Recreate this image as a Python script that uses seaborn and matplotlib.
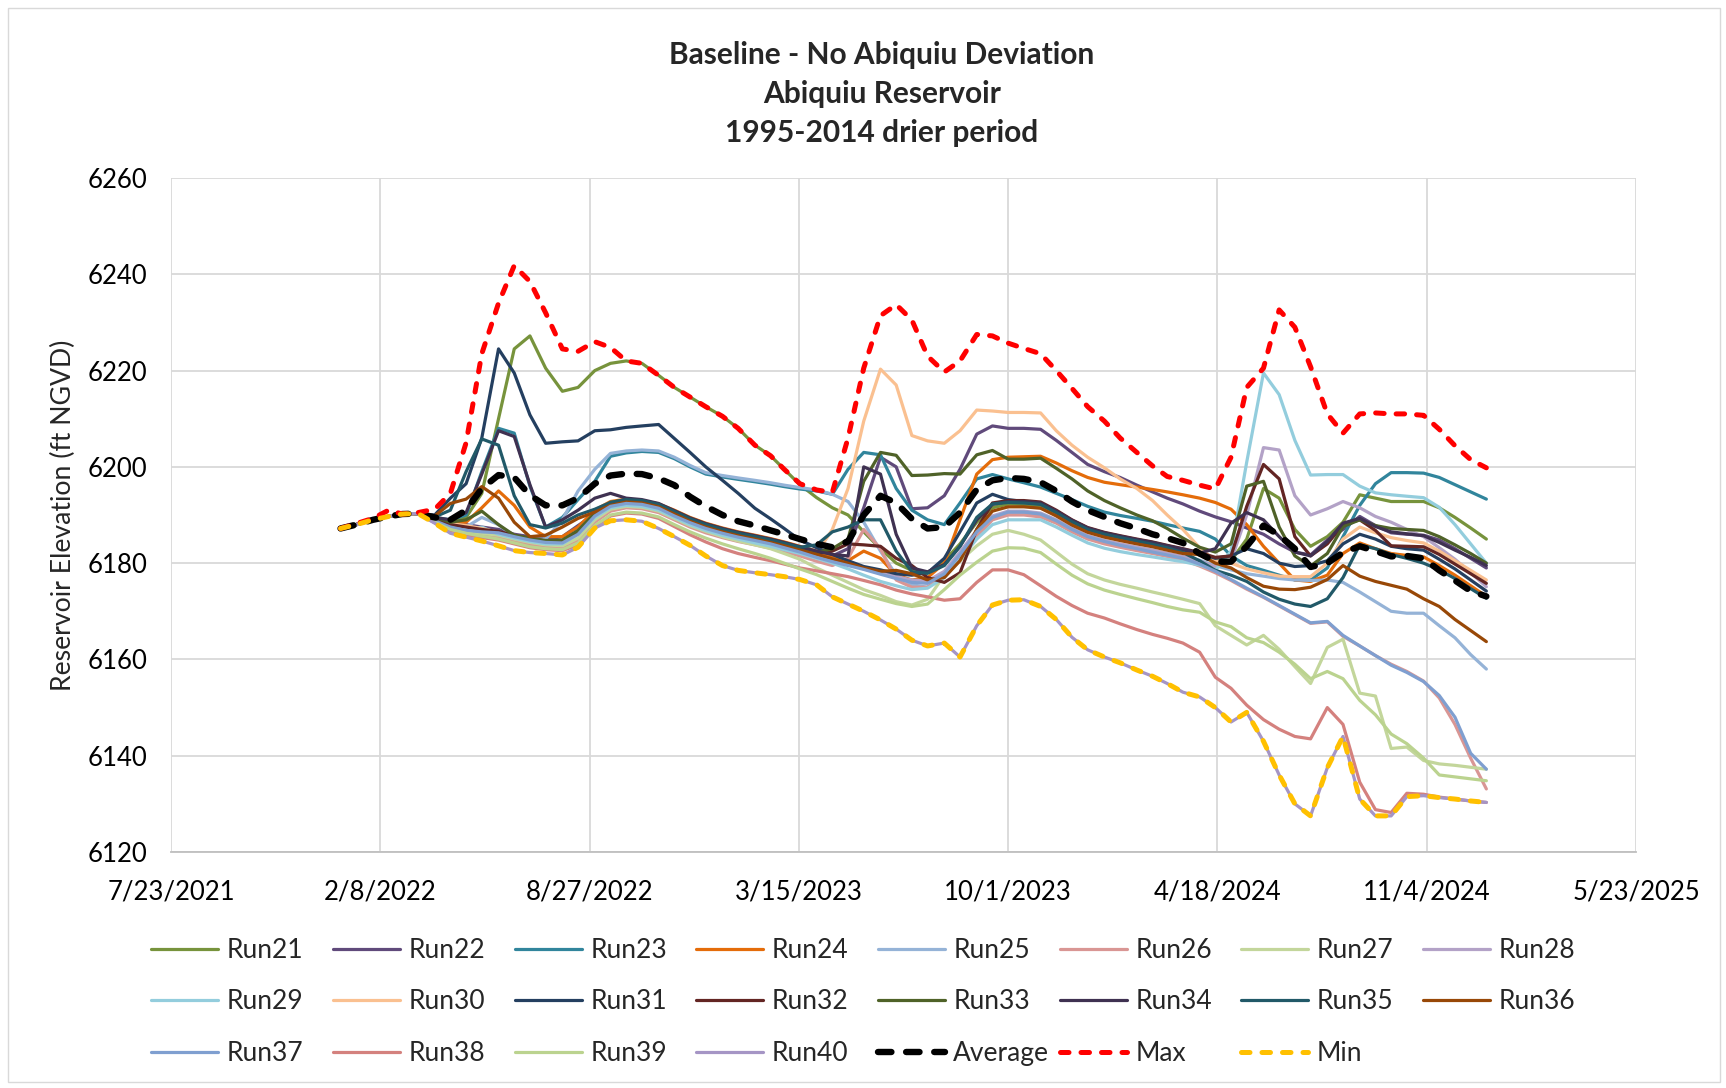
import pandas as pd
import matplotlib
matplotlib.use("Agg")
import matplotlib.pyplot as plt
from matplotlib.patches import Rectangle
import seaborn as sns

# Semi-monthly sample dates (1st and 16th), Jan 2022 - Dec 2024
dates = [pd.Timestamp(y, m, d) for y in (2022, 2023, 2024)
         for m in range(1, 13) for d in (1, 16)] + [pd.Timestamp(2024, 12, 31)]

# Reservoir elevation (ft NGVD) per run
run21 = [6187.2, 6188.0, 6189.0, 6189.7, 6190.2, 6190.3,
         6189.5, 6188.5, 6189.5, 6194.5, 6210.0, 6224.5, 6227.2, 6220.5, 6215.7, 6216.5, 6220.0, 6221.5, 6222.0, 6221.5, 6219.0, 6216.5, 6214.5, 6212.5,
         6210.5, 6208.0, 6204.5, 6202.3, 6199.5, 6196.3, 6193.6, 6191.5, 6190.0, 6186.5, 6183.0, 6180.0, 6178.5, 6178.0, 6180.5, 6184.0, 6188.5, 6191.5, 6192.3, 6192.2, 6191.8, 6190.3, 6188.3, 6186.8,
         6185.8, 6185.0, 6184.4, 6183.8, 6183.2, 6182.5, 6181.7, 6180.8, 6180.5, 6185.0, 6195.5, 6193.5, 6187.0, 6183.5, 6185.5, 6188.5, 6194.2, 6193.5, 6192.8, 6192.8, 6192.8, 6191.5, 6189.5, 6187.3,
         6185.0]
run22 = [6187.2, 6188.0, 6189.0, 6189.7, 6190.2, 6190.3,
         6189.5, 6188.5, 6188.0, 6187.5, 6187.0, 6186.0, 6185.5, 6185.0, 6185.5, 6187.8, 6190.2, 6192.3, 6193.0, 6192.8, 6192.0, 6190.5, 6189.0, 6187.8,
         6187.0, 6186.3, 6185.6, 6184.9, 6184.2, 6183.3, 6182.3, 6181.5, 6183.0, 6191.5, 6202.0, 6200.0, 6191.3, 6191.5, 6194.0, 6199.5, 6206.8, 6208.5, 6208.0, 6208.0, 6207.8, 6205.5, 6203.0, 6200.5,
         6199.0, 6197.8, 6196.2, 6194.8, 6193.5, 6192.3, 6190.8, 6189.6, 6188.6, 6187.3, 6186.0, 6184.0, 6182.3, 6181.7, 6184.8, 6187.0, 6189.7, 6187.8, 6186.3, 6186.0, 6185.8, 6184.8, 6183.0, 6181.0,
         6179.0]
run23 = [6187.2, 6188.0, 6189.0, 6189.7, 6190.2, 6190.3,
         6189.5, 6189.0, 6190.0, 6199.0, 6208.0, 6207.0, 6196.0, 6187.5, 6189.5, 6193.2, 6197.0, 6202.2, 6202.9, 6203.2, 6203.0, 6201.7, 6200.0, 6198.5,
         6197.9, 6197.4, 6196.9, 6196.4, 6195.9, 6195.4, 6195.0, 6194.3, 6199.5, 6203.0, 6202.5, 6195.5, 6191.0, 6189.0, 6188.0, 6192.5, 6197.5, 6198.4, 6197.5, 6196.7, 6195.8, 6194.5, 6193.2, 6191.8,
         6190.6, 6189.9, 6189.3, 6188.7, 6188.0, 6187.3, 6186.6, 6185.0, 6181.5, 6179.5, 6178.5, 6177.5, 6176.5, 6176.5, 6179.0, 6185.5, 6192.0, 6196.5, 6198.8, 6198.8, 6198.7, 6197.8, 6196.3, 6194.8,
         6193.3]
run24 = [6187.2, 6188.0, 6189.0, 6189.7, 6190.2, 6190.3,
         6189.5, 6188.5, 6188.5, 6191.5, 6195.0, 6192.0, 6187.5, 6185.5, 6185.5, 6187.5, 6191.0, 6192.8, 6193.3, 6193.0, 6192.3, 6191.0, 6189.5, 6188.3,
         6187.3, 6186.5, 6185.8, 6185.1, 6184.4, 6183.5, 6182.5, 6181.5, 6180.5, 6182.5, 6181.0, 6177.5, 6176.5, 6177.0, 6180.0, 6189.0, 6198.5, 6201.5, 6202.0, 6202.1, 6202.2, 6200.8, 6199.2, 6197.8,
         6196.8, 6196.3, 6195.8, 6195.3, 6194.8, 6194.2, 6193.5, 6192.6, 6191.2, 6188.0, 6183.5, 6180.0, 6176.5, 6176.2, 6177.5, 6182.0, 6184.2, 6183.0, 6182.0, 6181.6, 6181.3, 6179.5, 6177.5, 6175.3,
         6173.1]
run25 = [6187.2, 6188.0, 6189.0, 6189.7, 6190.2, 6190.3,
         6189.0, 6188.0, 6187.5, 6189.5, 6188.0, 6185.5, 6185.0, 6185.0, 6189.0, 6195.0, 6199.5, 6202.8, 6203.3, 6203.5, 6203.3, 6202.0, 6200.3, 6198.8,
         6198.2, 6197.7, 6197.2, 6196.7, 6196.2, 6195.7, 6195.2, 6194.3, 6192.8, 6188.5, 6182.5, 6177.5, 6175.5, 6175.0, 6177.5, 6181.5, 6186.0, 6189.2, 6190.3, 6190.3, 6190.0, 6188.6, 6186.8, 6185.4,
         6184.5, 6183.8, 6183.2, 6182.6, 6182.0, 6181.3, 6180.6, 6179.5, 6178.6, 6177.8, 6177.3, 6176.8, 6176.5, 6176.4, 6176.5, 6176.0, 6174.0, 6172.0, 6170.0, 6169.6, 6169.6, 6167.0, 6164.5, 6161.0,
         6158.0]
run26 = [6187.2, 6188.0, 6189.0, 6189.7, 6190.2, 6190.3,
         6188.5, 6187.0, 6186.3, 6185.8, 6185.3, 6184.5, 6183.8, 6183.5, 6183.3, 6184.8, 6188.5, 6190.8, 6191.5, 6191.3, 6190.5, 6189.0, 6187.5, 6186.3,
         6185.3, 6184.5, 6183.8, 6183.1, 6182.4, 6181.5, 6180.4, 6179.5, 6181.0, 6187.0, 6183.0, 6176.5, 6175.0, 6175.0, 6177.5, 6181.0, 6185.5, 6189.0, 6190.0, 6190.0, 6189.6, 6188.3, 6186.5, 6185.0,
         6184.0, 6183.3, 6182.6, 6182.0, 6181.4, 6180.7, 6179.4, 6178.0, 6176.4, 6174.6, 6172.9, 6171.1, 6169.3, 6167.5, 6167.8, 6164.8, 6162.8, 6160.8, 6159.0, 6157.5, 6155.5, 6152.0, 6146.5, 6139.5,
         6133.1]
run27 = [6187.2, 6188.0, 6189.0, 6189.7, 6190.2, 6190.3,
         6188.7, 6187.3, 6186.6, 6186.2, 6185.8, 6185.0, 6184.3, 6183.8, 6183.6, 6185.2, 6189.0, 6191.2, 6191.8, 6191.6, 6190.8, 6189.3, 6187.8, 6186.6,
         6185.5, 6184.6, 6183.8, 6183.0, 6182.0, 6180.8, 6179.0, 6177.5, 6176.0, 6174.5, 6173.3, 6172.0, 6171.3, 6172.5, 6177.5, 6180.5, 6183.6, 6186.0, 6186.8, 6186.0, 6184.8, 6182.3, 6179.8, 6177.8,
         6176.5, 6175.6, 6174.8, 6174.0, 6173.3, 6172.5, 6171.6, 6167.0, 6165.0, 6163.0, 6165.0, 6162.1, 6158.5, 6155.0, 6162.5, 6164.2, 6153.0, 6152.4, 6141.5, 6141.8, 6139.0, 6138.3, 6138.0, 6137.6,
         6137.2]
run28 = [6187.2, 6188.0, 6189.0, 6189.7, 6190.2, 6190.3,
         6189.0, 6188.0, 6187.2, 6186.8, 6186.5, 6185.8, 6185.0, 6184.5, 6184.5, 6186.5, 6190.0, 6192.2, 6192.8, 6192.6, 6191.8, 6190.3, 6188.8, 6187.6,
         6186.6, 6185.8, 6185.0, 6184.3, 6183.5, 6182.6, 6181.6, 6180.7, 6179.8, 6178.8, 6178.0, 6177.2, 6176.5, 6176.3, 6178.3, 6182.3, 6186.8, 6189.8, 6190.8, 6190.8, 6190.4, 6189.0, 6187.2, 6185.7,
         6184.7, 6184.0, 6183.3, 6182.7, 6182.0, 6181.4, 6180.4, 6179.3, 6180.5, 6190.0, 6204.0, 6203.5, 6194.0, 6190.0, 6191.3, 6192.8, 6191.5, 6189.7, 6188.5, 6187.0, 6185.5, 6183.2, 6180.8, 6178.0,
         6175.1]
run29 = [6187.2, 6188.0, 6189.0, 6189.7, 6190.2, 6190.3,
         6188.9, 6187.8, 6187.0, 6187.5, 6186.0, 6185.2, 6184.5, 6184.0, 6184.0, 6186.0, 6189.5, 6191.5, 6192.0, 6191.8, 6191.0, 6189.5, 6188.0, 6186.8,
         6185.8, 6185.0, 6184.2, 6183.5, 6182.8, 6182.0, 6181.0, 6180.0, 6178.8, 6177.5, 6176.2, 6175.3, 6174.5, 6174.8, 6177.0, 6180.8, 6185.0, 6188.0, 6189.0, 6189.0, 6189.0, 6187.5, 6185.8, 6184.2,
         6183.1, 6182.4, 6181.8, 6181.3, 6180.8, 6180.3, 6179.6, 6178.5, 6182.5, 6201.0, 6219.5, 6215.0, 6205.5, 6198.3, 6198.4, 6198.4, 6196.0, 6194.6, 6194.2, 6193.9, 6193.6, 6191.6, 6188.0, 6184.0,
         6180.0]
run30 = [6187.2, 6188.0, 6189.0, 6189.7, 6190.2, 6190.3,
         6189.2, 6188.2, 6187.8, 6187.2, 6186.4, 6185.6, 6185.0, 6184.6, 6184.7, 6186.7, 6190.3, 6192.5, 6193.1, 6192.9, 6192.1, 6190.6, 6189.1, 6187.9,
         6186.9, 6186.1, 6185.4, 6184.7, 6183.9, 6183.0, 6182.0, 6187.0, 6195.5, 6209.5, 6220.3, 6217.0, 6206.5, 6205.4, 6204.9, 6207.5, 6211.8, 6211.6, 6211.3, 6211.3, 6211.2, 6207.5, 6204.5, 6202.0,
         6199.8, 6197.5, 6195.5, 6193.0, 6190.0, 6187.0, 6183.2, 6180.5, 6180.0, 6178.8, 6178.0, 6177.3, 6177.2, 6177.2, 6180.0, 6185.0, 6187.5, 6186.3, 6185.3, 6184.7, 6184.2, 6182.5, 6180.5, 6178.5,
         6176.5]
run31 = [6187.2, 6188.0, 6189.0, 6189.7, 6190.2, 6190.3,
         6190.0, 6193.5, 6196.5, 6206.0, 6224.5, 6219.5, 6210.8, 6204.9, 6205.2, 6205.4, 6207.5, 6207.7, 6208.2, 6208.5, 6208.8, 6205.9, 6203.0, 6200.0,
         6197.2, 6194.5, 6191.4, 6189.2, 6187.2, 6184.8, 6183.2, 6181.8, 6180.5, 6179.3, 6178.6, 6177.8, 6177.5, 6178.0, 6181.0, 6186.5, 6192.5, 6194.3, 6193.2, 6192.8, 6192.5, 6190.8, 6188.8, 6187.2,
         6186.2, 6185.5, 6184.8, 6184.2, 6183.5, 6182.8, 6182.0, 6181.0, 6181.5, 6183.0, 6182.0, 6180.0, 6179.3, 6179.5, 6180.5, 6184.0, 6186.0, 6185.0, 6183.5, 6183.0, 6182.7, 6180.8, 6178.8, 6176.5,
         6174.2]
run32 = [6187.2, 6188.0, 6189.0, 6189.7, 6190.2, 6190.3,
         6189.2, 6188.0, 6187.5, 6187.0, 6186.6, 6185.8, 6185.1, 6184.6, 6184.6, 6186.6, 6190.2, 6192.4, 6193.0, 6192.8, 6192.0, 6190.5, 6189.0, 6187.8,
         6186.8, 6186.0, 6185.2, 6184.5, 6183.7, 6182.8, 6182.0, 6182.5, 6184.0, 6183.8, 6183.5, 6181.0, 6179.5, 6177.0, 6176.0, 6178.0, 6187.0, 6192.5, 6193.0, 6193.0, 6192.7, 6191.0, 6189.0, 6187.4,
         6186.4, 6185.7, 6185.0, 6184.4, 6183.7, 6183.0, 6182.2, 6181.2, 6181.5, 6191.8, 6200.5, 6197.5, 6185.5, 6181.5, 6184.0, 6188.0, 6189.0, 6186.8, 6183.6, 6183.5, 6183.4, 6181.8, 6179.8, 6177.8,
         6175.8]
run33 = [6187.2, 6188.0, 6189.0, 6189.7, 6190.2, 6190.3,
         6189.5, 6188.5, 6189.0, 6190.8, 6188.0, 6185.8, 6185.2, 6184.7, 6184.8, 6186.8, 6190.4, 6192.6, 6193.2, 6193.0, 6192.2, 6190.7, 6189.2, 6188.0,
         6187.0, 6186.2, 6185.5, 6184.8, 6184.0, 6183.0, 6182.2, 6183.0, 6185.0, 6197.0, 6203.0, 6202.4, 6198.2, 6198.3, 6198.6, 6198.5, 6202.5, 6203.4, 6201.6, 6201.6, 6201.8, 6199.7, 6197.5, 6195.0,
         6193.0, 6191.5, 6190.0, 6188.8, 6187.2, 6185.2, 6183.3, 6182.3, 6184.0, 6196.0, 6197.0, 6187.5, 6181.5, 6179.4, 6182.0, 6187.6, 6189.0, 6187.8, 6187.2, 6187.0, 6186.8, 6185.5, 6183.8, 6182.0,
         6180.0]
run34 = [6187.2, 6188.0, 6189.0, 6189.7, 6190.2, 6190.3,
         6189.5, 6189.0, 6190.5, 6198.5, 6207.5, 6206.3, 6196.3, 6187.5, 6189.0, 6191.0, 6193.5, 6194.5, 6193.5, 6193.2, 6192.4, 6190.9, 6189.4, 6188.2,
         6187.2, 6186.4, 6185.7, 6185.0, 6184.3, 6183.4, 6182.5, 6181.8, 6181.5, 6200.0, 6198.5, 6186.0, 6179.0, 6178.2, 6179.7, 6183.5, 6189.0, 6192.2, 6192.8, 6192.8, 6192.5, 6190.8, 6188.9, 6187.3,
         6186.3, 6185.6, 6184.9, 6184.3, 6183.6, 6182.9, 6182.1, 6183.0, 6188.3, 6190.5, 6189.0, 6185.5, 6182.3, 6181.5, 6184.5, 6188.3, 6189.3, 6187.6, 6186.5, 6186.1, 6185.7, 6184.3, 6182.7, 6181.2,
         6179.5]
run35 = [6187.2, 6188.0, 6189.0, 6189.7, 6190.2, 6190.3,
         6189.6, 6191.0, 6199.0, 6205.8, 6204.5, 6194.0, 6188.0, 6187.3, 6188.3, 6190.0, 6191.2, 6192.6, 6193.2, 6193.0, 6192.2, 6190.7, 6189.2, 6188.0,
         6187.0, 6186.2, 6185.5, 6184.8, 6184.1, 6183.3, 6183.8, 6186.5, 6187.5, 6189.0, 6189.0, 6182.5, 6178.2, 6177.9, 6179.5, 6183.5, 6189.5, 6192.3, 6192.6, 6192.5, 6192.2, 6190.5, 6188.6, 6187.0,
         6186.0, 6185.3, 6184.6, 6183.9, 6183.2, 6182.2, 6180.5, 6178.5, 6177.5, 6176.2, 6174.0, 6172.5, 6171.5, 6171.0, 6172.6, 6177.0, 6183.8, 6183.0, 6181.8, 6181.0, 6180.0, 6178.6, 6176.8, 6174.7,
         6172.7]
run36 = [6187.2, 6188.0, 6189.0, 6189.7, 6190.2, 6190.3,
         6189.8, 6192.4, 6193.3, 6195.9, 6193.5, 6188.5, 6185.5, 6185.8, 6187.5, 6189.3, 6190.6, 6192.0, 6192.7, 6192.5, 6191.7, 6190.2, 6188.7, 6187.5,
         6186.5, 6185.7, 6185.0, 6184.3, 6183.6, 6182.7, 6181.8, 6180.9, 6180.0, 6179.0, 6178.3, 6178.5, 6177.8, 6176.5, 6177.0, 6180.5, 6187.0, 6190.8, 6191.7, 6191.7, 6191.4, 6189.8, 6187.9, 6186.4,
         6185.4, 6184.7, 6184.0, 6183.4, 6182.7, 6182.0, 6181.8, 6180.0, 6179.0, 6177.0, 6175.2, 6174.6, 6174.5, 6175.0, 6176.6, 6179.5, 6177.3, 6176.2, 6175.4, 6174.6, 6172.6, 6171.0, 6168.3, 6166.0,
         6163.7]
run37 = [6187.2, 6188.0, 6189.0, 6189.7, 6190.2, 6190.3,
         6188.8, 6187.5, 6186.8, 6186.5, 6186.3, 6185.5, 6184.8, 6184.3, 6184.2, 6186.0, 6189.8, 6191.8, 6192.4, 6192.2, 6191.4, 6189.8, 6188.4, 6187.2,
         6186.2, 6185.4, 6184.7, 6184.0, 6183.2, 6182.3, 6181.2, 6180.3, 6179.5, 6178.7, 6177.7, 6176.8, 6176.0, 6175.8, 6177.8, 6181.8, 6186.5, 6189.5, 6190.6, 6190.6, 6190.2, 6188.8, 6187.0, 6185.5,
         6184.5, 6183.7, 6183.0, 6182.3, 6181.7, 6181.0, 6179.8, 6178.3, 6176.6, 6174.8, 6173.0, 6171.2, 6169.4, 6167.6, 6167.9, 6165.0, 6162.8, 6160.8, 6158.8, 6157.3, 6155.4, 6152.5, 6148.0, 6140.5,
         6137.2]
run38 = [6187.2, 6188.0, 6189.0, 6189.7, 6190.2, 6190.3,
         6188.4, 6186.8, 6185.9, 6185.3, 6184.8, 6184.0, 6183.2, 6182.8, 6182.6, 6183.8, 6187.5, 6189.8, 6190.4, 6190.2, 6189.3, 6187.6, 6185.9, 6184.4,
         6183.0, 6182.0, 6181.2, 6180.5, 6179.8, 6179.0, 6178.4, 6177.8, 6177.2, 6176.4, 6175.5, 6174.4, 6173.6, 6173.0, 6172.3, 6172.6, 6176.0, 6178.6, 6178.6, 6177.6, 6175.3, 6173.1, 6171.2, 6169.6,
         6168.6, 6167.4, 6166.2, 6165.2, 6164.4, 6163.4, 6161.5, 6156.3, 6154.0, 6150.5, 6147.5, 6145.5, 6144.0, 6143.5, 6150.0, 6146.5, 6134.5, 6128.8, 6128.2, 6132.2, 6132.0, 6131.4, 6131.0, 6130.6,
         6130.3]
run39 = [6187.2, 6188.0, 6189.0, 6189.7, 6190.2, 6190.3,
         6188.5, 6187.0, 6186.2, 6185.6, 6185.0, 6184.2, 6183.4, 6183.0, 6182.8, 6184.2, 6187.8, 6190.0, 6190.6, 6190.4, 6189.6, 6188.0, 6186.5, 6185.2,
         6184.0, 6183.0, 6182.0, 6181.0, 6180.0, 6178.8, 6177.6, 6176.2, 6174.8, 6173.5, 6172.5, 6171.6, 6171.0, 6171.5, 6174.5, 6177.5, 6180.2, 6182.5, 6183.2, 6183.1, 6182.2, 6179.8, 6177.5, 6175.7,
         6174.4, 6173.5, 6172.6, 6171.8, 6171.0, 6170.3, 6169.8, 6167.8, 6166.8, 6164.5, 6163.5, 6161.5, 6159.0, 6156.0, 6157.5, 6156.0, 6151.5, 6148.5, 6144.5, 6142.5, 6139.5, 6136.0, 6135.6, 6135.2,
         6134.8]
run40 = [6187.2, 6188.0, 6189.0, 6189.7, 6190.2, 6190.3,
         6188.3, 6186.2, 6185.4, 6184.6, 6183.6, 6182.6, 6182.2, 6182.0, 6181.7, 6183.3, 6187.3, 6188.8, 6189.0, 6188.7, 6187.2, 6185.5, 6183.7, 6181.5,
         6179.5, 6178.5, 6178.0, 6177.6, 6177.2, 6176.6, 6175.5, 6173.0, 6171.5, 6170.0, 6168.2, 6166.3, 6164.0, 6162.8, 6163.4, 6160.5, 6167.0, 6171.3, 6172.3, 6172.4, 6171.0, 6168.3, 6164.6, 6162.0,
         6160.5, 6159.3, 6157.8, 6156.5, 6155.0, 6153.2, 6152.2, 6150.0, 6147.0, 6149.0, 6143.0, 6136.0, 6130.0, 6127.5, 6137.5, 6144.0, 6131.0, 6127.5, 6127.5, 6131.5, 6131.7, 6131.3, 6131.0, 6130.6,
         6130.3]

# Summary statistics across the full run ensemble
average = [6187.2, 6188.0, 6189.0, 6189.7, 6190.2, 6190.3,
           6189.5, 6189.0, 6191.0, 6195.5, 6198.3, 6197.8, 6194.1, 6192.0, 6192.0, 6193.5, 6196.5, 6198.2, 6198.6, 6198.5, 6197.6, 6196.2, 6193.8, 6191.8,
           6190.0, 6188.7, 6187.8, 6186.8, 6186.0, 6185.0, 6184.0, 6183.3, 6184.5, 6190.0, 6194.0, 6192.5, 6189.2, 6187.2, 6187.5, 6190.5, 6195.3, 6197.2, 6197.7, 6197.5, 6196.8, 6195.0, 6192.8, 6191.0,
           6189.6, 6188.3, 6187.2, 6186.0, 6185.2, 6184.2, 6182.0, 6180.3, 6180.3, 6183.5, 6187.8, 6185.8, 6183.0, 6179.2, 6180.0, 6182.2, 6183.5, 6182.5, 6181.4, 6181.5, 6181.0, 6178.5, 6176.4, 6174.2,
           6173.1]
maximum = [6187.2, 6188.2, 6189.3, 6191.0, 6190.2, 6190.5,
           6191.2, 6194.5, 6205.0, 6223.5, 6234.0, 6241.8, 6238.5, 6232.0, 6224.5, 6224.0, 6226.0, 6224.8, 6222.0, 6221.5, 6219.0, 6216.5, 6214.5, 6212.5,
           6210.5, 6208.0, 6204.5, 6202.3, 6199.5, 6196.5, 6195.2, 6194.7, 6206.0, 6220.5, 6231.4, 6233.7, 6230.5, 6223.0, 6219.7, 6222.0, 6227.5, 6227.2, 6225.7, 6224.6, 6223.5, 6220.0, 6216.3, 6212.5,
           6209.5, 6206.0, 6203.0, 6200.2, 6198.0, 6197.2, 6196.2, 6195.4, 6202.0, 6216.5, 6220.5, 6232.6, 6229.0, 6220.8, 6211.0, 6207.0, 6211.0, 6211.2, 6211.0, 6211.0, 6210.7, 6207.8, 6204.4, 6201.5,
           6199.8]
minimum = [6187.2, 6188.0, 6189.0, 6189.7, 6190.2, 6190.3,
           6188.3, 6186.2, 6185.4, 6184.6, 6183.6, 6182.6, 6182.2, 6182.0, 6181.7, 6183.3, 6187.3, 6188.8, 6189.0, 6188.7, 6187.2, 6185.5, 6183.7, 6181.5,
           6179.5, 6178.5, 6178.0, 6177.6, 6177.2, 6176.6, 6175.5, 6173.0, 6171.5, 6170.0, 6168.2, 6166.3, 6164.0, 6162.8, 6163.4, 6160.5, 6167.0, 6171.3, 6172.3, 6172.4, 6171.0, 6168.3, 6164.6, 6162.0,
           6160.5, 6159.3, 6157.8, 6156.5, 6155.0, 6153.2, 6152.2, 6150.0, 6147.0, 6149.0, 6143.0, 6136.0, 6130.0, 6127.5, 6137.5, 6144.0, 6131.0, 6127.5, 6127.5, 6131.5, 6131.7, 6131.3, 6131.0, 6130.6,
           6130.3]

run_names = ["Run21", "Run22", "Run23", "Run24", "Run25", "Run26", "Run27", "Run28", "Run29", "Run30",
             "Run31", "Run32", "Run33", "Run34", "Run35", "Run36", "Run37", "Run38", "Run39", "Run40"]
run_values = [run21, run22, run23, run24, run25, run26, run27, run28, run29, run30,
              run31, run32, run33, run34, run35, run36, run37, run38, run39, run40]
run_colors = ["#77933C", "#604A7B", "#31859C", "#E46C0A", "#95B3D7", "#D99694", "#C3D69B", "#B3A2C7", "#93CDDD", "#FAC090",
              "#243F60", "#632523", "#4F6228", "#3F3151", "#215968", "#984807", "#7F9FD0", "#D4817E", "#BBD38F", "#A595C5"]

x_tick_labels = ["7/23/2021", "2/8/2022", "8/27/2022", "3/15/2023", "10/1/2023", "4/18/2024", "11/4/2024", "5/23/2025"]
y_ticks = [6120, 6140, 6160, 6180, 6200, 6220, 6240, 6260]
title_lines = ["Baseline - No Abiquiu Deviation", "Abiquiu Reservoir", "1995-2014 drier period"]

W, H = 1726, 1088
sns.set_style("white")
plt.rcParams["font.family"] = ["Lato", "DejaVu Sans"]

fig = plt.figure(figsize=(W / 100, H / 100), dpi=100)
ax = fig.add_axes([171 / W, 1 - 852 / H, (1636 - 171) / W, (852 - 178) / H])

for name, vals, col in zip(run_names, run_values, run_colors):
    df = pd.DataFrame({"date": dates, "elev": vals})
    sns.lineplot(data=df, x="date", y="elev", ax=ax, color=col, lw=2.3,
                 label=name, errorbar=None, zorder=2)

stat_styles = [
    ("Average", average, "#000000", 4.6, (2.1, 2.3), 3),
    ("Max", maximum, "#FF0000", 3.6, (1.7, 2.4), 4),
    ("Min", minimum, "#FFC000", 3.6, (1.7, 2.4), 5),
]
for name, vals, col, lw, dash, z in stat_styles:
    df = pd.DataFrame({"date": dates, "elev": vals})
    sns.lineplot(data=df, x="date", y="elev", ax=ax, color=col, lw=lw,
                 linestyle=(0, dash), dash_capstyle="round",
                 label=name, errorbar=None, zorder=z)

# Axes
tick_dates = [pd.Timestamp(2021, 7, 23) + pd.Timedelta(days=200 * k) for k in range(len(x_tick_labels))]
ax.set_xlim(tick_dates[0], tick_dates[-1])
ax.set_xticks(tick_dates)
ax.set_xticklabels(x_tick_labels)
ax.set_ylim(y_ticks[0], y_ticks[-1])
ax.set_yticks(y_ticks)
ax.set_xlabel("")
ax.set_ylabel("")
ax.grid(True, color="#D9D9D9", lw=1.3)
ax.set_axisbelow(True)
for side in ("left", "right", "top"):
    ax.spines[side].set_visible(False)
ax.spines["bottom"].set_color("#BFBFBF")
ax.spines["bottom"].set_linewidth(1.3)
ax.tick_params(axis="both", length=0, labelsize=18.5, colors="black")
ax.tick_params(axis="y", pad=17)
ax.tick_params(axis="x", pad=20)

# Legend laid out row by row in 8 columns
handles, labels = ax.get_legend_handles_labels()
if ax.get_legend() is not None:
    ax.get_legend().remove()
col_left = [151, 333, 515, 696, 878, 1060, 1241, 1423]
for c, xl in enumerate(col_left):
    idx = [i for i in (c, c + 8, c + 16) if i < len(handles)]
    fig.legend([handles[i] for i in idx], [labels[i] for i in idx],
               loc="upper left", bbox_to_anchor=(xl / W, 1 - 938 / H),
               frameon=False, borderpad=0, borderaxespad=0,
               handlelength=2.55, handletextpad=0.3, labelspacing=1.0,
               fontsize=19)

# Titles
for k, line in enumerate(title_lines):
    fig.text(882 / W, 1 - (55 + 39 * k) / H, line, ha="center", va="center",
             fontsize=21.5, fontweight="bold")

fig.text(63 / W, 1 - 515 / H, "Reservoir Elevation (ft NGVD)", rotation=90,
         ha="center", va="center", fontsize=19.2)

fig.patches.append(Rectangle((8 / W, 6 / H), (W - 14) / W, (H - 14) / H,
                             transform=fig.transFigure, fill=False,
                             edgecolor="#D9D9D9", lw=1.0))

fig.savefig("out.png", dpi=100)
